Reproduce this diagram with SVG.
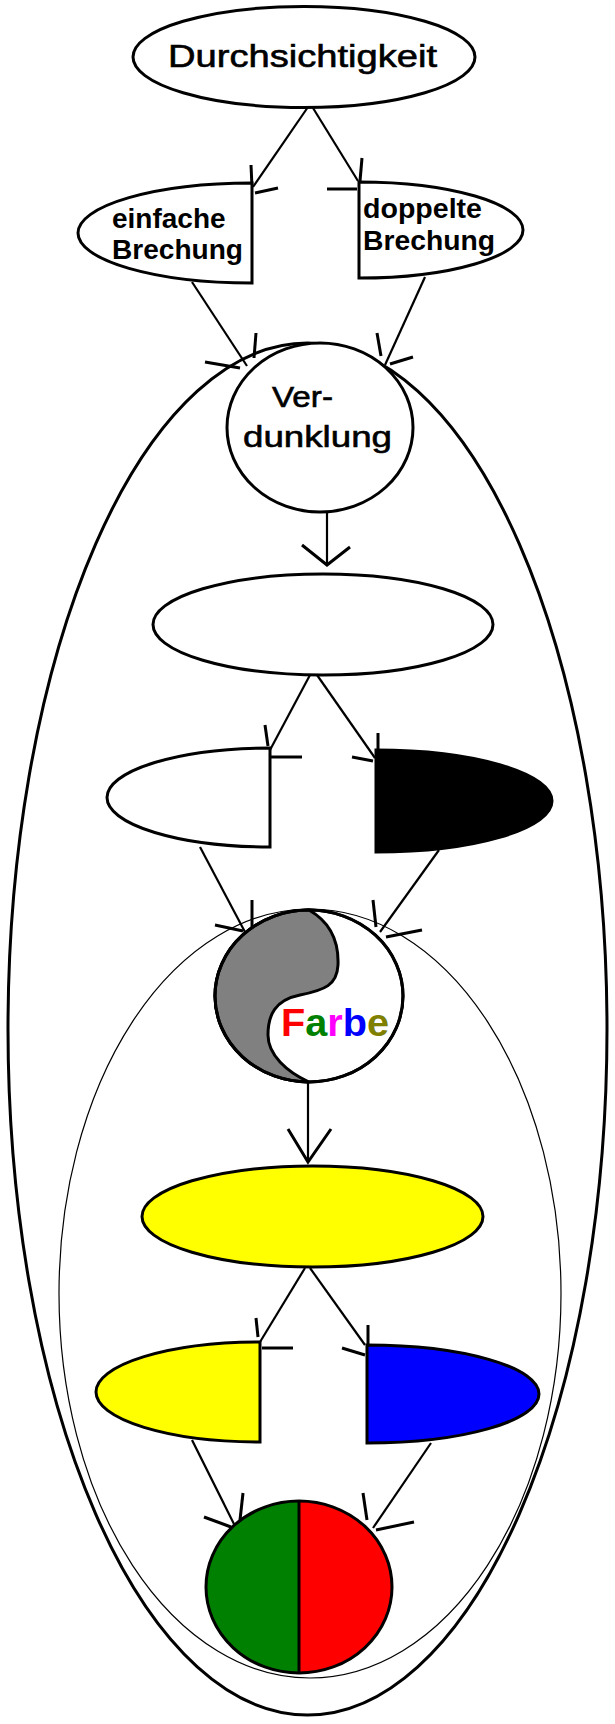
<svg xmlns="http://www.w3.org/2000/svg" width="615" height="1724" viewBox="0 0 615 1724">
<style>
.node{fill:#fff;stroke:#000;stroke-width:3}
.conn line,.conn path{stroke:#000;stroke-width:2.2;fill:none}
.conn .tick{stroke-width:3}
.lbl{font-family:"Liberation Sans",Arial,sans-serif;fill:#000}
.reg{stroke:#000;stroke-width:0.6}
.b{font-weight:bold;font-size:28px}
</style>
<rect width="615" height="1724" fill="#fff"/>
<g id="enclosures" fill="none" stroke="#000">
<ellipse cx="307.5" cy="1029" rx="299.5" ry="686" stroke-width="3"/>
<ellipse cx="310" cy="1293.5" rx="251" ry="384.5" stroke-width="1.2"/>
</g>
<g class="conn" id="connectors">
<line x1="308" y1="107" x2="253" y2="187"/>
<line class="tick" x1="251" y1="165" x2="252" y2="187"/>
<line class="tick" x1="255" y1="193" x2="278" y2="188"/>
<line x1="313" y1="108" x2="358" y2="181"/>
<line class="tick" x1="362" y1="158" x2="360" y2="181"/>
<line class="tick" x1="327" y1="189" x2="357" y2="189"/>
<line x1="192" y1="282" x2="247" y2="366"/>
<line class="tick" x1="256" y1="333" x2="254" y2="358"/>
<line class="tick" x1="205" y1="362" x2="240" y2="368"/>
<line x1="425" y1="277" x2="385" y2="365"/>
<line class="tick" x1="377" y1="333" x2="381" y2="356"/>
<line class="tick" x1="413" y1="357" x2="390" y2="364"/>
<line x1="327" y1="512" x2="327" y2="565"/>
<path class="tick" d="M302,545 L327,565 L350,547"/>
<line x1="310" y1="675" x2="270" y2="750"/>
<line class="tick" x1="265" y1="725" x2="268" y2="746"/>
<line class="tick" x1="271" y1="757" x2="302" y2="757"/>
<line x1="317" y1="675" x2="375" y2="758"/>
<line class="tick" x1="378" y1="733" x2="378" y2="757"/>
<line class="tick" x1="352" y1="757" x2="373" y2="761"/>
<line x1="200" y1="847" x2="245" y2="932"/>
<line class="tick" x1="252" y1="900" x2="252" y2="928"/>
<line class="tick" x1="215" y1="925" x2="243" y2="931"/>
<line x1="439" y1="850" x2="380" y2="932"/>
<line class="tick" x1="373" y1="900" x2="376" y2="927"/>
<line class="tick" x1="422" y1="930" x2="386" y2="937"/>
<line x1="308" y1="1082" x2="308" y2="1162"/>
<path class="tick" d="M288,1129 L308,1162 L331,1129"/>
<line x1="305" y1="1268" x2="260" y2="1342"/>
<line class="tick" x1="256" y1="1318" x2="258" y2="1337"/>
<line class="tick" x1="262" y1="1348" x2="293" y2="1348"/>
<line x1="310" y1="1268" x2="365" y2="1345"/>
<line class="tick" x1="368" y1="1325" x2="368" y2="1345"/>
<line class="tick" x1="342" y1="1348" x2="365" y2="1355"/>
<line x1="192" y1="1440" x2="236" y2="1528"/>
<line class="tick" x1="243" y1="1493" x2="240" y2="1520"/>
<line class="tick" x1="204" y1="1517" x2="231" y2="1527"/>
<line x1="431" y1="1443" x2="373" y2="1528"/>
<line class="tick" x1="363" y1="1493" x2="367" y2="1520"/>
<line class="tick" x1="414" y1="1522" x2="376" y2="1530"/>
</g>
<g id="durchsichtigkeit">
<ellipse class="node" cx="304" cy="57" rx="171" ry="50.5"/>
<text class="lbl reg" x="168" y="67" font-size="31" textLength="269" lengthAdjust="spacingAndGlyphs">Durchsichtigkeit</text>
</g>
<g id="einfache">
<path class="node" d="M252,183 A174,50 0 0 0 252,283 Z"/>
<text class="lbl b" x="112" y="228">einfache</text>
<text class="lbl b" x="112" y="259" textLength="131" lengthAdjust="spacingAndGlyphs">Brechung</text>
</g>
<g id="doppelte">
<path class="node" d="M359,182 A164,48 0 0 1 359,278 Z"/>
<text class="lbl b" x="363" y="218" textLength="119" lengthAdjust="spacingAndGlyphs">doppelte</text>
<text class="lbl b" x="363" y="250" textLength="132" lengthAdjust="spacingAndGlyphs">Brechung</text>
</g>
<g id="verdunklung">
<ellipse class="node" cx="320" cy="427.5" rx="93" ry="84.5"/>
<text class="lbl reg" x="272" y="407" font-size="30" textLength="61" lengthAdjust="spacingAndGlyphs">Ver-</text>
<text class="lbl reg" x="243" y="447" font-size="30" textLength="149" lengthAdjust="spacingAndGlyphs">dunklung</text>
</g>
<g id="blank">
<ellipse class="node" cx="323" cy="624.5" rx="170" ry="50.5"/>
</g>
<g id="white-half">
<path class="node" d="M270,748 A163,49.5 0 0 0 270,847 Z"/>
</g>
<g id="black-half">
<path class="node" style="fill:#000" d="M376,750 A176,51 0 0 1 376,852 Z"/>
</g>
<g id="farbe">
<ellipse class="node" cx="309" cy="996" rx="94" ry="86"/>
<path d="M309,910 C330,922 339,940 338,965 C337,985 325,990 300,995 C275,1000 268,1015 268,1035 C268,1055 287,1072 309,1082 A94,86 0 0 1 309,910 Z" fill="#808080" stroke="#000" stroke-width="3"/>
<ellipse cx="309" cy="996" rx="94" ry="86" fill="none" stroke="#000" stroke-width="3"/>
<text class="lbl" x="281" y="1036" font-size="38" font-weight="bold" textLength="108" lengthAdjust="spacingAndGlyphs"><tspan fill="#ff0000">F</tspan><tspan fill="#008000">a</tspan><tspan fill="#ff00ff">r</tspan><tspan fill="#0000ff">b</tspan><tspan fill="#808000">e</tspan></text>
</g>
<g id="yellow">
<ellipse class="node" style="fill:#ffff00" cx="312.5" cy="1216.5" rx="170.5" ry="50.5"/>
</g>
<g id="yellow-half">
<path class="node" style="fill:#ffff00" d="M260,1342 A164,50 0 0 0 260,1442 Z"/>
</g>
<g id="blue-half">
<path class="node" style="fill:#0000ff" d="M367,1345 A172,49 0 0 1 367,1443 Z"/>
</g>
<g id="green-red">
<path d="M299,1501 A93,86 0 0 0 299,1673 Z" fill="#008000"/>
<path d="M299,1501 A93,86 0 0 1 299,1673 Z" fill="#ff0000"/>
<ellipse cx="299" cy="1587" rx="93" ry="86" fill="none" stroke="#000" stroke-width="3"/>
<line x1="299" y1="1501" x2="299" y2="1673" stroke="#000" stroke-width="3"/>
</g>
</svg>
